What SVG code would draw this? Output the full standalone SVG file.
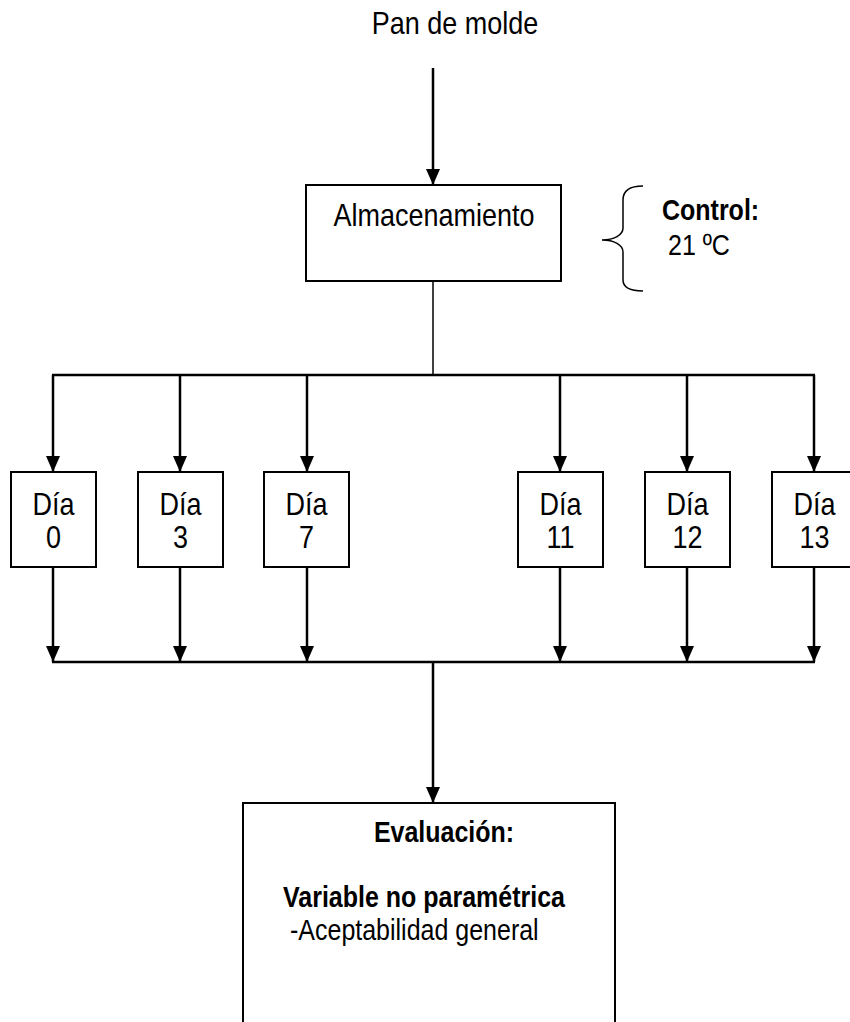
<svg xmlns="http://www.w3.org/2000/svg" width="850" height="1022" viewBox="0 0 850 1022">
  <defs>
    <marker id="arrow" markerUnits="userSpaceOnUse" markerWidth="16" markerHeight="14" viewBox="0 0 16 14" refX="16" refY="7" orient="auto">
      <path d="M0,0 L16,7 L0,14 Z" fill="#000"/>
    </marker>
    <style>
      .box { fill: #fff; stroke: #000; stroke-width: 2; }
      .txt { font-family: "Liberation Sans", Arial, sans-serif; font-size: 27px; fill: #000; }
      .bold { font-family: "Liberation Sans", Arial, sans-serif; font-size: 25px; font-weight: bold; fill: #000; }
      .small { font-family: "Liberation Sans", Arial, sans-serif; font-size: 25px; fill: #000; }
      .wire { fill: none; stroke: #000; stroke-width: 2.5; }
      .thin { fill: none; stroke: #000; stroke-width: 1.5; }
      .down { fill: none; stroke: #000; stroke-width: 2.5; }
    </style>
  </defs>
  <rect width="850" height="1022" fill="#fff"/>

  <!-- connectors -->
  <g id="connectors">
    <line class="down" x1="433" y1="68" x2="433" y2="185" marker-end="url(#arrow)"/>
    <line class="thin" x1="433" y1="281" x2="433" y2="375"/>
    <line class="wire" x1="52" y1="375" x2="815" y2="375"/>
    <line class="down" x1="53" y1="375" x2="53" y2="472" marker-end="url(#arrow)"/>
    <line class="down" x1="180" y1="375" x2="180" y2="472" marker-end="url(#arrow)"/>
    <line class="down" x1="307" y1="375" x2="307" y2="472" marker-end="url(#arrow)"/>
    <line class="down" x1="560" y1="375" x2="560" y2="472" marker-end="url(#arrow)"/>
    <line class="down" x1="687" y1="375" x2="687" y2="472" marker-end="url(#arrow)"/>
    <line class="down" x1="814" y1="375" x2="814" y2="472" marker-end="url(#arrow)"/>
    <line class="down" x1="53" y1="567" x2="53" y2="662" marker-end="url(#arrow)"/>
    <line class="down" x1="180" y1="567" x2="180" y2="662" marker-end="url(#arrow)"/>
    <line class="down" x1="307" y1="567" x2="307" y2="662" marker-end="url(#arrow)"/>
    <line class="down" x1="560" y1="567" x2="560" y2="662" marker-end="url(#arrow)"/>
    <line class="down" x1="687" y1="567" x2="687" y2="662" marker-end="url(#arrow)"/>
    <line class="down" x1="814" y1="567" x2="814" y2="662" marker-end="url(#arrow)"/>
    <line class="wire" x1="52" y1="662" x2="815" y2="662"/>
    <line class="down" x1="433" y1="662" x2="433" y2="803" marker-end="url(#arrow)"/>
  </g>

  <!-- source label -->
  <g id="source">
    <text class="txt" transform="translate(455,34) scale(1,1.18)" text-anchor="middle">Pan de molde</text>
  </g>

  <!-- storage step -->
  <g id="storage">
    <rect class="box" x="306" y="185" width="255" height="96"/>
    <text class="txt" transform="translate(434,226) scale(1,1.18)" text-anchor="middle">Almacenamiento</text>
  </g>

  <!-- control note with brace -->
  <g id="control">
    <path class="thin" d="M643,186 C630,186 623,190 623,200 L623,228 C623,235 614,240 602,240 C614,240 623,245 623,252 L623,280 C623,288 630,291 643,291"/>
    <text class="bold" transform="translate(662,220) scale(1,1.18)">Control:</text>
    <text class="small" transform="translate(668,255) scale(1,1.18)">21 ºC</text>
  </g>

  <!-- sampling days -->
  <g id="day0">
    <rect class="box" x="11" y="472" width="85" height="95"/>
    <text class="txt" transform="translate(53.5,515) scale(1,1.18)" text-anchor="middle">Día</text>
    <text class="txt" transform="translate(53.5,548) scale(1,1.18)" text-anchor="middle">0</text>
  </g>
  <g id="day3">
    <rect class="box" x="138" y="472" width="85" height="95"/>
    <text class="txt" transform="translate(180.5,515) scale(1,1.18)" text-anchor="middle">Día</text>
    <text class="txt" transform="translate(180.5,548) scale(1,1.18)" text-anchor="middle">3</text>
  </g>
  <g id="day7">
    <rect class="box" x="264" y="472" width="85" height="95"/>
    <text class="txt" transform="translate(306.5,515) scale(1,1.18)" text-anchor="middle">Día</text>
    <text class="txt" transform="translate(306.5,548) scale(1,1.18)" text-anchor="middle">7</text>
  </g>
  <g id="day11">
    <rect class="box" x="518" y="472" width="85" height="95"/>
    <text class="txt" transform="translate(560.5,515) scale(1,1.18)" text-anchor="middle">Día</text>
    <text class="txt" transform="translate(560.5,548) scale(1,1.18)" text-anchor="middle">11</text>
  </g>
  <g id="day12">
    <rect class="box" x="645" y="472" width="85" height="95"/>
    <text class="txt" transform="translate(687.5,515) scale(1,1.18)" text-anchor="middle">Día</text>
    <text class="txt" transform="translate(687.5,548) scale(1,1.18)" text-anchor="middle">12</text>
  </g>
  <g id="day13">
    <rect class="box" x="772" y="472" width="85" height="95"/>
    <text class="txt" transform="translate(814.5,515) scale(1,1.18)" text-anchor="middle">Día</text>
    <text class="txt" transform="translate(814.5,548) scale(1,1.18)" text-anchor="middle">13</text>
  </g>

  <!-- evaluation -->
  <g id="evaluation">
    <rect class="box" x="243" y="803" width="372" height="240"/>
    <text class="bold" transform="translate(444,842) scale(1,1.18)" text-anchor="middle">Evaluación:</text>
    <text class="bold" transform="translate(283,907) scale(1,1.18)">Variable no paramétrica</text>
    <text class="small" transform="translate(290,940) scale(1,1.18)">-Aceptabilidad general</text>
  </g>
</svg>
